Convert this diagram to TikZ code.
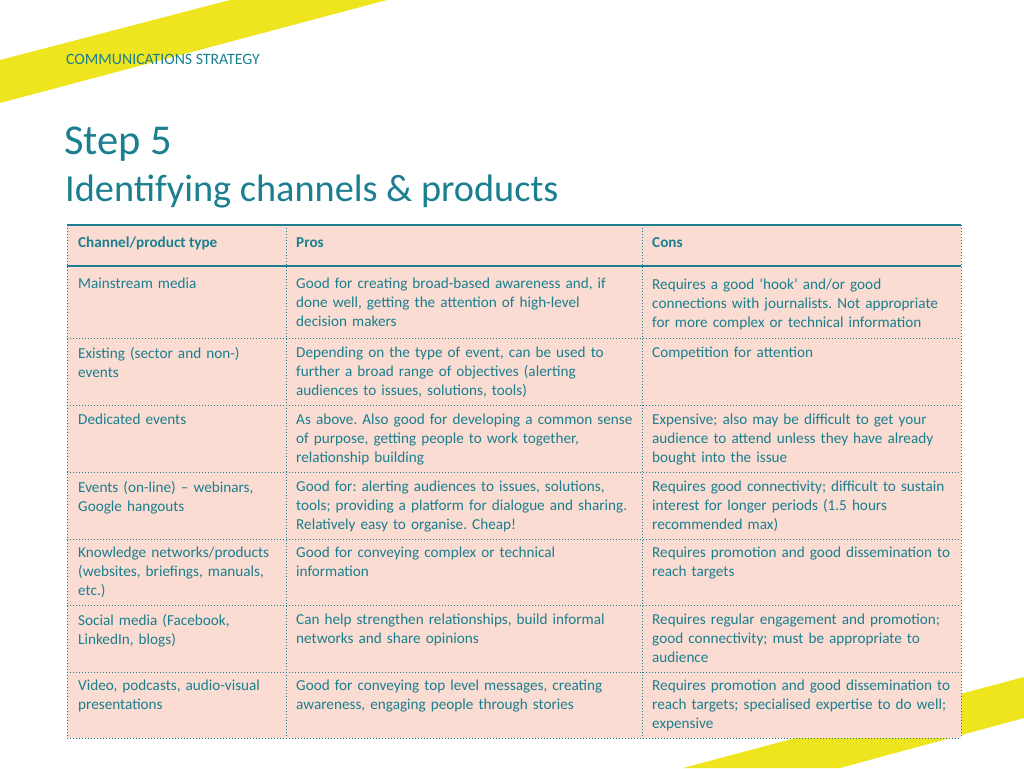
\documentclass[tikz,border=0pt]{standalone}
\usepackage{fontspec}
\setmainfont{Carlito}
\frenchspacing
\definecolor{teal1}{HTML}{1A7F8E}
\definecolor{pinkc}{HTML}{FADCD3}
\definecolor{yel}{HTML}{EEE51F}
\begin{document}
\begin{tikzpicture}[x=1pt,y=-1pt,
  cell/.style={anchor=north west,inner sep=0pt,text width=#1,align=left,text=teal1,font=\fontsize{15.2}{19}\selectfont},
  hcell/.style={anchor=west,inner sep=0pt,text=teal1,font=\fontsize{15.2}{19}\selectfont\bfseries},
  dline/.style={draw=teal1,line width=1pt,dotted}]
\useasboundingbox (0,0) rectangle (1024,768);
\fill[yel] (0,60) -- (230,0) -- (387,0) -- (0,103) -- cycle;
\fill[yel] (683,768) -- (1024,677) -- (1024,718) -- (840,768) -- cycle;
\node[anchor=west,inner sep=0pt,text=teal1,font=\fontsize{15.8}{18}\selectfont] (hdr) at (66,59) {COMMUNICATIONS STRATEGY};
\node[anchor=west,inner sep=0pt,text=teal1,font=\fontsize{42.5}{46}\selectfont] (t1) at (64,144) {Step 5};
\node[anchor=west,inner sep=0pt,text=teal1,font=\fontsize{38.3}{42}\selectfont] (t2) at (65,191) {Identifying channels \& products};
\fill[pinkc] (67,225) rectangle (961,738);
\foreach \y in {338,405,472,539,605,672,738} \draw[dline] (67,\y) -- (961,\y);
\foreach \x in {67,286,642,961} \draw[dline] (\x,225) -- (\x,738);
\draw[teal1,line width=1.8pt] (67,225) -- (961,225);
\draw[teal1,line width=1.8pt] (67,266) -- (961,266);
\node[hcell] (h1) at (78,243) {Channel/product type};
\node[hcell] (h2) at (296,243) {Pros};
\node[hcell] (h3) at (652,243) {Cons};
\def\cw{205pt}\def\pw{345pt}\def\nw{305pt}
\node[cell=\cw] (a1) at (78,278) {Mainstream media};
\node[cell=\pw] (b1) at (296,278) {Good for creating broad-based awareness and, if\\done well, getting the attention of high-level\\decision makers};
\node[cell=\nw] (c1) at (652,278) {Requires a good ‘hook’ and/or good\\connections with journalists. Not appropriate\\for more complex or technical information};
\node[cell=\cw] (a2) at (78,347) {Existing (sector and non-)\\events};
\node[cell=\pw] (b2) at (296,347) {Depending on the type of event, can be used to\\further a broad range of objectives (alerting\\audiences to issues, solutions, tools)};
\node[cell=\nw] (c2) at (652,347) {Competition for attention};
\node[cell=\cw] (a3) at (78,414) {Dedicated events};
\node[cell=\pw] (b3) at (296,414) {As above. Also good for developing a common sense\\of purpose, getting people to work together,\\relationship building};
\node[cell=\nw] (c3) at (652,414) {Expensive; also may be difficult to get your\\audience to attend unless they have already\\bought into the issue};
\node[cell=\cw] (a4) at (78,481) {Events (on-line) – webinars,\\Google hangouts};
\node[cell=\pw] (b4) at (296,481) {Good for: alerting audiences to issues, solutions,\\tools; providing a platform for dialogue and sharing.\\Relatively easy to organise. Cheap!};
\node[cell=\nw] (c4) at (652,481) {Requires good connectivity; difficult to sustain\\interest for longer periods (1.5 hours\\recommended max)};
\node[cell=\cw] (a5) at (78,547) {Knowledge networks/products\\(websites, briefings, manuals,\\etc.)};
\node[cell=\pw] (b5) at (296,547) {Good for conveying complex or technical\\information};
\node[cell=\nw] (c5) at (652,547) {Requires promotion and good dissemination to\\reach targets};
\node[cell=\cw] (a6) at (78,614) {Social media (Facebook,\\LinkedIn, blogs)};
\node[cell=\pw] (b6) at (296,614) {Can help strengthen relationships, build informal\\networks and share opinions};
\node[cell=\nw] (c6) at (652,614) {Requires regular engagement and promotion;\\good connectivity; must be appropriate to\\audience};
\node[cell=\cw] (a7) at (78,680) {Video, podcasts, audio-visual\\presentations};
\node[cell=\pw] (b7) at (296,680) {Good for conveying top level messages, creating\\awareness, engaging people through stories};
\node[cell=\nw] (c7) at (652,680) {Requires promotion and good dissemination to\\reach targets; specialised expertise to do well;\\expensive};
\end{tikzpicture}
\end{document}
